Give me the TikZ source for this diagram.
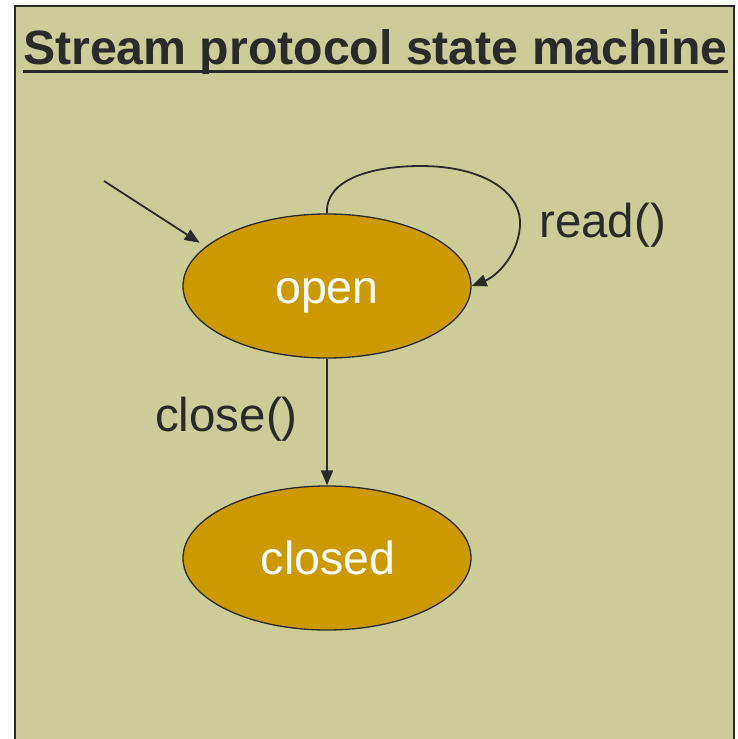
\documentclass[tikz,border=0pt]{standalone}
\usepackage{fontspec}
\setmainfont{Liberation Sans}
\usetikzlibrary{shapes.geometric,arrows.meta}
\definecolor{panel}{HTML}{CCCC99}
\definecolor{statefill}{HTML}{CC9900}
\definecolor{ink}{HTML}{2A2A2A}
\tikzset{
  state/.style={ellipse, draw=ink, line width=1.3pt, fill=statefill,
    minimum width=288pt, minimum height=144pt, inner sep=0pt},
  statelbl/.style={anchor=base, inner sep=0pt, text=white,
    font=\fontsize{46.5}{50}\selectfont},
  trans/.style={draw=ink, line width=1.8pt,
    -{Triangle[length=15pt,width=12pt]}},
  lbl/.style={anchor=base west, inner sep=0pt, text=ink,
    font=\fontsize{47.5}{52}\selectfont},
}
\begin{document}
\begin{tikzpicture}[x=1pt,y=-1pt]
  \clip (0,0) rectangle (738,739);
  % panel
  \fill[white] (0,0) rectangle (738,739);
  \filldraw[fill=panel, draw=ink, line width=2pt]
    (15,760) -- (15,6) -- (734,6) -- (734,760);
  % title
  \node[anchor=base west, inner sep=0pt, text=ink,
        font=\fontsize{48.2}{52}\selectfont\bfseries] (title) at (23,64)
        {Stream protocol state machine};
  \draw[ink, line width=3.6pt]
    ([yshift=-7.5pt]title.base west) -- ([yshift=-7.5pt]title.base east);
  % states
  \node[state] (open) at (327,286) {};
  \node[state] (closed) at (327,558) {};
  \node[statelbl] (openlbl) at (327,303) {open};
  \node[statelbl] (closedlbl) at (328,574) {closed};
  % initial transition
  \coordinate (initstart) at (104,181);
  \draw[trans, shorten >=7pt] (initstart) -- (open.162);
  % read() self loop
  \draw[trans] (open.north) .. controls (325,180) and (370,166) .. (421,166)
    .. controls (480,166) and (522,190) .. (520,226)
    .. controls (518,255) and (497,276) .. (open.east);
  \node[lbl] (readlbl) at (539,237) {read()};
  % close() transition
  \draw[trans] (open.south) -- (closed.north);
  \node[lbl] (closelbl) at (155,431) {close()};
\end{tikzpicture}
\end{document}
